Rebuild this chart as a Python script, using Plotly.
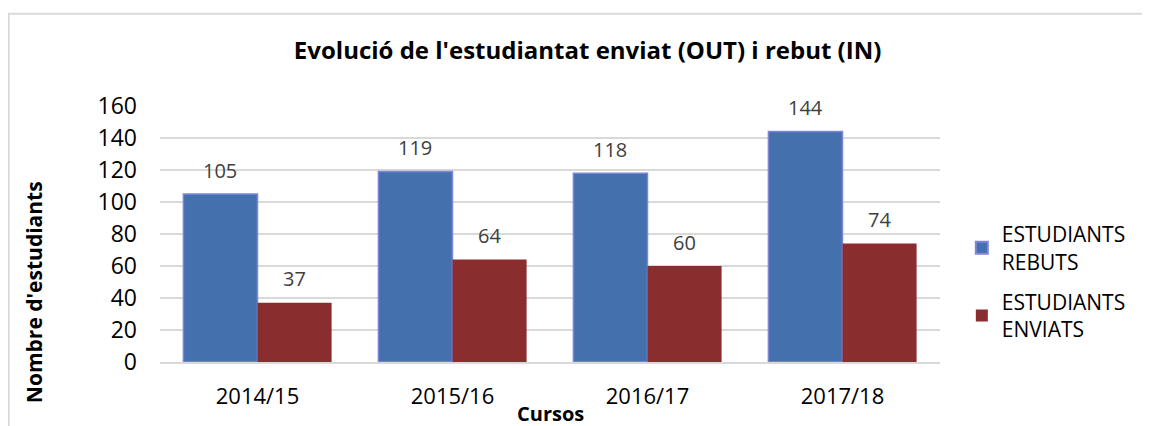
import plotly.graph_objects as go

categories = ["2014/15", "2015/16", "2016/17", "2017/18"]
rebuts = [105, 119, 118, 144]
enviats = [37, 64, 60, 74]
series_names = ["ESTUDIANTS<br>REBUTS", "ESTUDIANTS<br>ENVIATS"]
y_ticks = [0, 20, 40, 60, 80, 100, 120, 140, 160]

FONT = "Open Sans"
BARGAP = 0.24
half = (1 - BARGAP) / 4  # offset of each bar centre from the category centre

fig = go.Figure()
fig.add_trace(go.Bar(
    x=categories, y=rebuts, name=series_names[0], legendgroup="a",
    marker=dict(color="#4470ae", line=dict(color="#7f86d8", width=1.5)),
))
fig.add_trace(go.Bar(
    x=categories, y=enviats, name=series_names[1], legendgroup="b",
    marker=dict(color="#8a2d2f", line=dict(width=0)),
))

for i, (a, b) in enumerate(zip(rebuts, enviats)):
    for xv, yv in ((i - half, a), (i + half, b)):
        fig.add_annotation(x=xv, y=yv, text=str(yv), showarrow=False,
                           yanchor="middle", yshift=24,
                           font=dict(size=20, color="#404040", family=FONT))

fig.update_layout(
    width=1150, height=426,
    margin=dict(l=152, r=218, t=98, b=72),
    paper_bgcolor="white", plot_bgcolor="white",
    barmode="group", bargap=BARGAP, bargroupgap=0,
    font=dict(family=FONT, color="#000000"),
    title=dict(text="<b>Evolució de l'estudiantat enviat (OUT) i rebut (IN)</b>",
               xref="container", x=0.504, xanchor="center",
               yref="container", y=0.90, yanchor="middle",
               font=dict(size=24, family=FONT, color="#000000")),
    legend=dict(x=1.028, xanchor="left", y=0.3125, yanchor="middle",
                font=dict(size=21, family=FONT, color="#000000"),
                itemsizing="constant", tracegroupgap=10),
    showlegend=True,
)
fig.update_yaxes(range=[0, 160], tickvals=y_ticks, showgrid=True,
                 gridcolor="#d9d9d9", gridwidth=1.5, zeroline=False,
                 showline=False, ticks="", tickfont=dict(size=23, family=FONT),
                 ticklabelstandoff=22)
fig.update_xaxes(showline=True, linecolor="#d9d9d9", linewidth=1.5,
                 ticks="", tickfont=dict(size=22, family=FONT),
                 ticklabelstandoff=14)

fig.add_annotation(text="<b>Nombre d'estudiants</b>", xref="paper", yref="paper",
                   x=-0.1615, y=0.273, xanchor="center", yanchor="middle",
                   textangle=-90, showarrow=False,
                   font=dict(size=21, family=FONT, color="#000000"))
fig.add_annotation(text="<b>Cursos</b>", xref="paper", yref="paper",
                   x=0.5, y=-0.2, xanchor="center", yanchor="middle",
                   showarrow=False, font=dict(size=20, family=FONT, color="#000000"))
fig.add_shape(type="rect", xref="paper", yref="paper",
              x0=-0.194, x1=1.5, y0=-0.5, y1=1.36,
              line=dict(color="#d9d9d9", width=2), fillcolor="rgba(0,0,0,0)",
              layer="below")

fig.write_html("out.html")
